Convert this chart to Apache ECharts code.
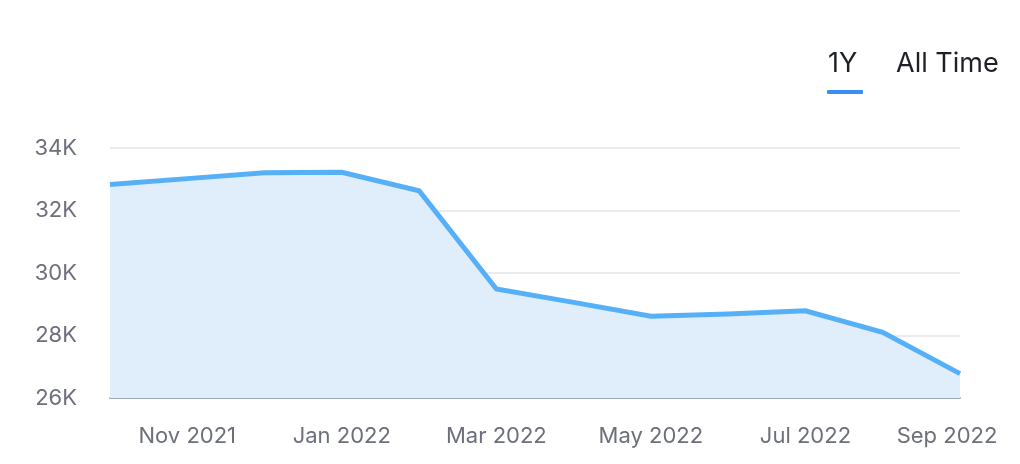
<!DOCTYPE html>
<html>
<head>
<meta charset="utf-8">
<script src="https://cdn.jsdelivr.net/npm/echarts@6/dist/echarts.min.js"></script>
<style>
html,body{margin:0;padding:0;background:#fff;}
#chart{width:1020px;height:464px;}
</style>
</head>
<body>
<div id="chart"></div>
<script>
var months = ['Oct 2021','Nov 2021','Dec 2021','Jan 2022','Feb 2022','Mar 2022','Apr 2022','May 2022','Jun 2022','Jul 2022','Aug 2022','Sep 2022'];
var values = [32830, 33020, 33210, 33220, 32630, 29490, 29060, 28620, 28690, 28790, 28100, 26780];
var yMin = 26000, yMax = 34000, yStep = 2000;
var tabs = ['1Y', 'All Time'];

var chart = echarts.init(document.getElementById('chart'), null, {renderer: 'canvas'});
var FONT = 'Inter, "Noto Sans", sans-serif';
var catData = months.map(function (m, i) {
  if (i === months.length - 1) {
    return {value: m, textStyle: {padding: [0, 26, 0, 0]}};
  }
  return m;
});
chart.setOption({
  animation: false,
  grid: {left: 110, right: 60, top: 148, bottom: 66, containLabel: false},
  xAxis: {
    type: 'category',
    data: catData,
    boundaryGap: false,
    axisLine: {show: true, lineStyle: {color: '#a0abb8', width: 2}},
    axisTick: {show: false},
    splitLine: {show: false},
    axisLabel: {
      interval: function (i) { return i % 2 === 1; },
      color: '#6d707b', fontSize: 22, fontFamily: FONT, margin: 27
    }
  },
  yAxis: {
    type: 'value',
    min: yMin, max: yMax, interval: yStep,
    axisLine: {show: false},
    axisTick: {show: false},
    splitLine: {show: true, lineStyle: {color: '#e2e5e9', width: 1.5}},
    axisLabel: {
      color: '#6d707b', fontSize: 22, fontFamily: FONT, margin: 33,
      formatter: function (v) { return (v / 1000) + 'K'; }
    }
  },
  series: [{
    type: 'line',
    data: values,
    symbol: 'none',
    lineStyle: {color: '#56b0f8', width: 5, join: 'miter'},
    areaStyle: {color: '#e0edfa', opacity: 1},
    z: 3
  }],
  graphic: [
    {type: 'text', left: 828, top: 50, style: {text: tabs[0], font: '27px ' + FONT, fill: '#1d2026'}},
    {type: 'rect', shape: {x: 827, y: 90, width: 36, height: 4, r: 1}, style: {fill: '#3b8ff0'}},
    {type: 'text', left: 896, top: 50, style: {text: tabs[1], font: '27px ' + FONT, fill: '#1d2026'}}
  ]
});
</script>
</body>
</html>
